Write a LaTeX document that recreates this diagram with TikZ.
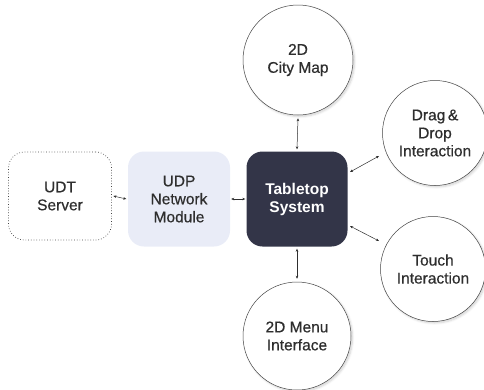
\documentclass[tikz,border=0pt]{standalone}
\usepackage{fontspec}
\setmainfont{Liberation Sans}
\newfontfamily\labelfont[FakeBold=0.5]{Liberation Sans}
\usetikzlibrary{arrows.meta,shadows.blur}
\definecolor{inkgray}{HTML}{2E2E2E}
\definecolor{edgegray}{HTML}{444444}
\definecolor{panel}{HTML}{E9ECF7}
\definecolor{darkbox}{HTML}{333548}
\tikzset{
  label text/.style={font=\labelfont\fontsize{15.5}{18}\selectfont, text=inkgray, align=center},
  bubble/.style={circle, draw=edgegray, line width=0.5pt, fill=white, label text,
    blur shadow={shadow xshift=1.5pt, shadow yshift=-1.5pt, shadow opacity=18, shadow blur steps=6}},
  roundbox/.style={rounded corners=16pt, minimum width=102pt, minimum height=95pt, label text},
  link/.style={{Stealth[length=3pt,width=2.6pt]}-{Stealth[length=3pt,width=2.6pt]}, draw=inkgray, line width=0.5pt}
}
\begin{document}
\begin{tikzpicture}[x=1pt,y=-1pt]
  \useasboundingbox (0,0) rectangle (484,389);
  % left chain
  \node[roundbox, draw=edgegray, dotted, line width=0.7pt, minimum width=103pt, minimum height=88pt] (udt) at (60,196) {UDT\\Server};
  \node[roundbox, fill=panel, minimum width=102pt] (udp) at (179,199) {UDP\\Network\\Module};
  \node[roundbox, fill=darkbox, text=white, font=\fontsize{15.5}{18}\selectfont\bfseries, minimum width=101pt] (core) at (297,199) {Tabletop\\System};
  % surrounding modules
  \node[bubble, minimum size=110pt] (map) at (298,60) {2D\\City Map};
  \node[bubble, minimum size=105pt] (drag) at (435,133) {Drag\,\&\\Drop\\Interaction};
  \node[bubble, minimum size=105pt] (touch) at (433,269) {Touch\\Interaction};
  \node[bubble, minimum size=108pt] (menu) at (297,336) {2D Menu\\Interface};
  % connectors
  \draw[link] ([xshift=1.5pt]udt.east) -- ([xshift=-1.5pt]udp.west);
  \draw[link] ([xshift=1pt]udp.east) -- ([xshift=-1pt]core.west);
  \draw[link] ([yshift=-3pt]map.south) -- ([yshift=2pt]core.north);
  \draw[link] ([yshift=-2pt]core.south) -- ([yshift=3pt]menu.north);
  \draw[link] (350,172) -- (379,156);
  \draw[link] (350,226) -- (379,241);
\end{tikzpicture}
\end{document}
